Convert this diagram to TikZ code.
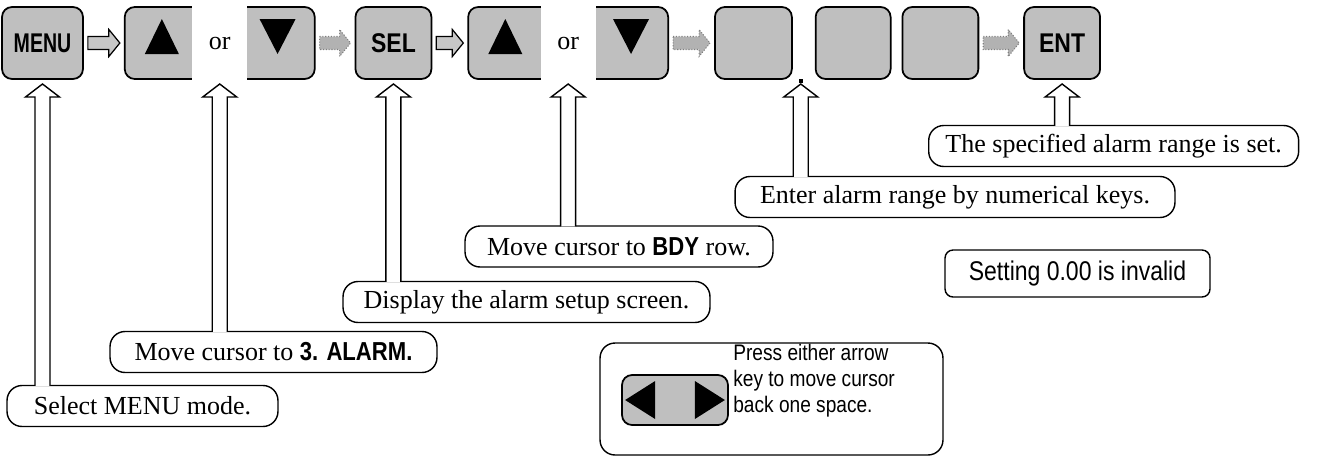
\documentclass[tikz,border=0pt]{standalone}
\usepackage{graphicx}
\usepackage{fontspec}
\setmainfont{Liberation Serif}
\newfontfamily\keyfont[FakeStretch=0.85]{Liberation Sans}
\usetikzlibrary{positioning,calc}

\newcommand{\notefont}{\fontsize{14.8pt}{17pt}\selectfont}
\newcommand{\hintfont}{\keyfont\fontsize{12.8pt}{14.8pt}\selectfont}
\newcommand{\kb}[1]{{\keyfont\bfseries #1}}

\tikzset{
  % Key on the panel (grey)
  keybox/.style={rectangle,rounded corners=0.2cm,draw,line width=1pt,
    fill=black!25,minimum height=1.44cm,inner sep=0pt,
    font=\keyfont\bfseries\fontsize{15.4pt}{17pt}\selectfont},
  % White gap holding "or"
  orgap/.style={rectangle,fill=white,minimum width=1.1cm,
    minimum height=1.7cm,inner sep=0pt,font=\notefont},
  % Note bubble
  note/.style={rectangle,rounded corners=0.3cm,draw,line width=0.8pt,
    fill=white,minimum height=0.82cm,inner sep=0pt,font=\notefont},
  % Plain hint box
  hint/.style={rectangle,rounded corners=0.16cm,draw,line width=0.8pt,
    minimum height=0.94cm,inner sep=0pt,
    font=\keyfont\fontsize{15.4pt}{17pt}\selectfont},
  % Arrows
  flowarr/.style={fill=black!22,draw,line width=0.7pt},
  flowarrd/.style={fill=black!30,draw=black!50,densely dotted,line width=0.6pt},
  callout/.style={fill=white,draw,line width=0.8pt},
}

% block arrow from key to key
\newcommand{\blockarr}[3]{%
  \filldraw[#1] ($(#2.east)+(4,-6.5)$) -- ($(#3.west)+(-15,-6.5)$)
    -- ($(#3.west)+(-15,-13.5)$) -- ($(#3.west)+(-4,0)$)
    -- ($(#3.west)+(-15,13.5)$) -- ($(#3.west)+(-15,6.5)$)
    -- ($(#2.east)+(4,6.5)$) -- cycle;}
% hollow arrow from a note up to a key
\newcommand{\upcallout}[2]{%
  \filldraw[callout] ($(#2.center |- #1.north)+(-7.5,1)$)
    -- ($(#2.center |- tips)+(-7.5,13)$) -- ($(#2.center |- tips)+(-17,13)$)
    -- (#2.center |- tips)
    -- ($(#2.center |- tips)+(17,13)$) -- ($(#2.center |- tips)+(7.5,13)$)
    -- ($(#2.center |- #1.north)+(7.5,1)$);}
% key triangles
\newcommand{\triup}[1]{\fill[shift={(#1)}] (-17,11) -- (0,-24) -- (17,11) -- cycle;}
\newcommand{\tridown}[1]{\fill[shift={(#1)}] (-18,-24) -- (18,-24) -- (0,11) -- cycle;}
\newcommand{\trileft}[1]{\fill[shift={(#1)}] (15,-19) -- (15,19) -- (-15,0) -- cycle;}
\newcommand{\triright}[1]{\fill[shift={(#1)}] (-15,-19) -- (-15,19) -- (15,0) -- cycle;}

\begin{document}
\begin{tikzpicture}[x=0.02cm,y=-0.02cm]
  \useasboundingbox (0,0) rectangle (1317,457);
  \coordinate (tips) at (0,84);

  % keys along the top
  \node[keybox,minimum width=1.62cm] (menu) at (42.5,43) {\scalebox{0.85}[1]{MENU}};
  \node[keybox,minimum width=3.8cm,right=0.8cm of menu] (pick1) {};
  \node[orgap] (or1) at (pick1.center) {or};
  \node[keybox,minimum width=1.52cm,right=0.78cm of pick1] (sel) {SEL};
  \node[keybox,minimum width=4cm,right=0.7cm of sel] (pick2) {};
  \node[orgap] (or2) at (pick2.center) {or};
  \node[keybox,minimum width=1.54cm,right=0.9cm of pick2] (num1) {};
  \node[keybox,minimum width=1.5cm,right=0.44cm of num1] (num2) {};
  \node[keybox,minimum width=1.52cm,right=0.2cm of num2] (num3) {};
  \node[keybox,minimum width=1.52cm,right=0.88cm of num3] (ent) {ENT};
  \node[fill,inner sep=0pt,minimum size=0.09cm] (point)
    at ($(num1.south east)!0.5!(num2.south west)+(-3,1)$) {};

  \triup{$(pick1.west)+(38,0)$}
  \tridown{$(pick1.east)+(-38,0)$}
  \triup{$(pick2.west)+(38,0)$}
  \tridown{$(pick2.east)+(-38,0)$}

  \blockarr{flowarr}{menu}{pick1}
  \blockarr{flowarrd}{pick1}{sel}
  \blockarr{flowarr}{sel}{pick2}
  \blockarr{flowarrd}{pick2}{num1}
  \blockarr{flowarrd}{num3}{ent}

  % notes
  \node[note,minimum width=5.42cm] (modenote) at (142.5,406) {Select MENU mode.};
  \node[note,minimum width=6.54cm] (alarmnote) at (273.5,352)
    {Move cursor to \kb{3. ALARM.}};
  \node[note,minimum width=7.34cm] (setupnote) at (526.5,302)
    {Display the alarm setup screen.};
  \node[note,minimum width=6.16cm] (bdynote) at (619,246.5)
    {Move cursor to \kb{BDY} row.};
  \node[note,minimum width=8.8cm] (rangenote) at (955,197)
    {Enter alarm range by numerical keys.};
  \node[note,minimum width=7.4cm,anchor=west] (setnote) at (928,146)
    {The specified alarm range is set.};

  \node[hint,minimum width=5.3cm] (zeronote) at (1077.5,273.5) {Setting 0.00 is invalid};

  % back-space hint
  \node[note,minimum width=6.86cm,minimum height=2.24cm] (backbox) at (771.5,399) {};
  \node[keybox,minimum width=2.12cm,minimum height=1cm] (lrkey) at (675,400) {};
  \trileft{$(lrkey.west)+(19,0)$}
  \triright{$(lrkey.east)+(-19,0)$}
  \node[anchor=west,align=left,font=\hintfont,inner sep=0pt] (backtxt) at (733,381)
    {Press either arrow\\key to move cursor\\back one space.};

  \upcallout{modenote}{menu}
  \upcallout{alarmnote}{or1}
  \upcallout{setupnote}{sel}
  \upcallout{bdynote}{or2}
  \upcallout{rangenote}{point}
  \upcallout{setnote}{ent}
\end{tikzpicture}
\end{document}
